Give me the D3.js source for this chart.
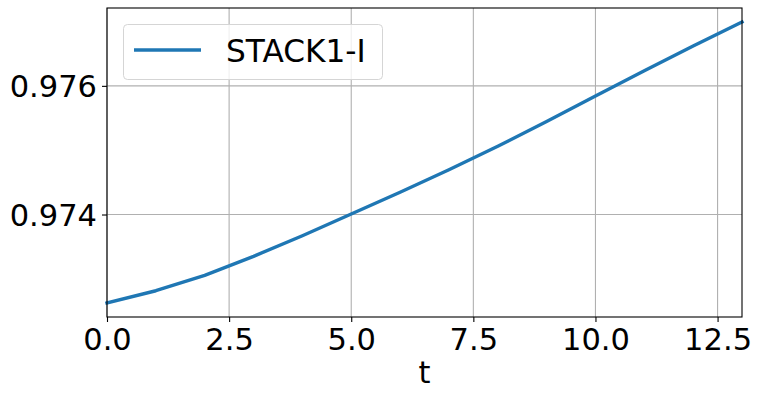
<!DOCTYPE html>
<html><head><meta charset="utf-8">
<script src="https://cdn.jsdelivr.net/npm/d3@7"></script>
<style>
body{margin:0;background:#fff;}
text{font-family:"DejaVu Sans",sans-serif;}
</style></head>
<body><svg id="c" width="762" height="400"></svg>
<script>
const tValues = [0,1,2,3,4,5,6,7,8,9,10,11,12,13];
const stack1I = [0.972625,0.972815,0.973055,0.973350,0.973670,0.974008,0.974345,0.974695,0.975060,0.975445,0.975844,0.976235,0.976620,0.976992];
const seriesName = "STACK1-I";
const xTicks = [0,2.5,5,7.5,10,12.5];
const yTicks = [0.974,0.976];
const xLabel = "t";

const svg = d3.select("#c");
const m = {l:107, r:742, t:8, b:317};
const x = d3.scaleLinear().domain([0,13]).range([m.l,m.r]);
const yMin = d3.min(stack1I), yMax = d3.max(stack1I), pad = (yMax-yMin)*0.05;
const y = d3.scaleLinear().domain([yMin-pad,yMax+pad]).range([m.b,m.t]);
const fs = 30.5;

svg.append("g").selectAll("line").data(xTicks).join("line")
  .attr("x1",d=>x(d)).attr("x2",d=>x(d)).attr("y1",m.t).attr("y2",m.b)
  .attr("stroke","#b0b0b0").attr("stroke-width",1.1);
svg.append("g").selectAll("line").data(yTicks).join("line")
  .attr("y1",d=>y(d)).attr("y2",d=>y(d)).attr("x1",m.l).attr("x2",m.r)
  .attr("stroke","#b0b0b0").attr("stroke-width",1.1);

svg.append("path").datum(tValues.map((t,i)=>[t,stack1I[i]]))
  .attr("d",d3.line().x(d=>x(d[0])).y(d=>y(d[1])))
  .attr("fill","none").attr("stroke","#1f77b4").attr("stroke-width",3.4)
  .attr("stroke-linejoin","round").attr("stroke-linecap","square");

const xa = svg.append("g").attr("transform",`translate(0,${m.b})`)
  .call(d3.axisBottom(x).tickValues(xTicks).tickFormat(d3.format(".1f")).tickSize(5).tickPadding(5));
const ya = svg.append("g").attr("transform",`translate(${m.l},0)`)
  .call(d3.axisLeft(y).tickValues(yTicks).tickFormat(d3.format(".3f")).tickSize(5).tickPadding(5));
[xa,ya].forEach(a=>{
  a.select(".domain").remove();
  a.selectAll(".tick line").attr("stroke","#000").attr("stroke-width",1.1);
  a.selectAll("text").attr("font-size",fs).attr("fill","#000").attr("font-family","DejaVu Sans");
});
xa.selectAll("text").attr("dy",null).attr("y",33);
ya.selectAll("text").attr("dy","0.36em");

svg.append("rect").attr("x",m.l).attr("y",m.t).attr("width",m.r-m.l).attr("height",m.b-m.t)
  .attr("fill","none").attr("stroke","#000").attr("stroke-width",1.1);

svg.append("text").attr("x",(m.l+m.r)/2).attr("y",383).attr("text-anchor","middle")
  .attr("font-size",fs).text(xLabel);

const lg = svg.append("g");
lg.append("rect").attr("x",123.5).attr("y",24.5).attr("width",259).attr("height",55).attr("rx",4)
  .attr("fill","#fff").attr("fill-opacity",0.8).attr("stroke","#d5d5d5").attr("stroke-width",1);
lg.append("line").attr("x1",134).attr("x2",201).attr("y1",50).attr("y2",50)
  .attr("stroke","#1f77b4").attr("stroke-width",3.4);
lg.append("text").attr("x",226).attr("y",62).attr("font-size",31.2).text(seriesName);
</script></body></html>
